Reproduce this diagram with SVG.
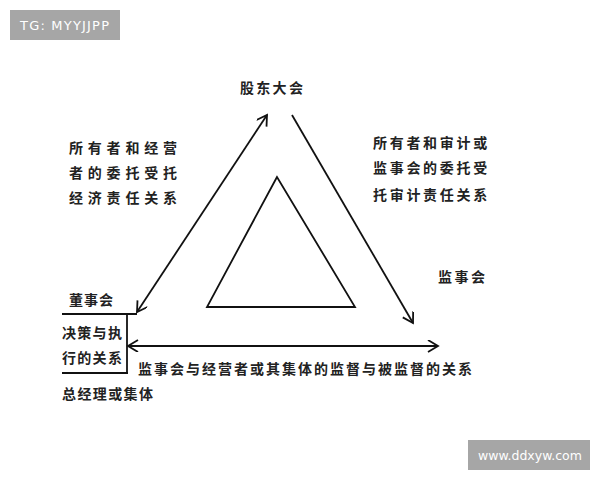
<svg xmlns="http://www.w3.org/2000/svg" width="600" height="480" viewBox="0 0 600 480">
<style>
.t{font-family:"Noto Sans CJK SC","Noto Sans",sans-serif;font-size:14px;font-weight:700;fill:#222}
.ln{stroke:#111;stroke-width:1.8;fill:none}
.wm{font-family:"DejaVu Sans","Liberation Sans",sans-serif;font-size:13px;fill:#fff}
</style>
<defs>
<marker id="ah" markerWidth="14" markerHeight="14" refX="11" refY="6" orient="auto-start-reverse" markerUnits="userSpaceOnUse">
<path d="M1,0 L11,6 L1,12" fill="none" stroke="#111" stroke-width="1.8"/>
</marker>
</defs>
<rect width="600" height="480" fill="#fff"/>
<g id="wm1"><rect x="10" y="10" width="110" height="30" fill="#a6a6a6"/><text class="wm" x="20" y="30" letter-spacing="1.2">TG: MYYJJPP</text></g>
<g id="wm2"><rect x="468" y="440" width="122" height="30" fill="#a6a6a6"/><text class="wm" x="478" y="460" style="font-size:12.5px">www.ddxyw.com</text></g>
<g id="connectors">
<line class="ln" x1="137" y1="312" x2="267" y2="115" marker-start="url(#ah)" marker-end="url(#ah)"/>
<line class="ln" x1="292" y1="115" x2="413" y2="323" marker-end="url(#ah)"/>
<line class="ln" x1="128" y1="346" x2="438" y2="346" marker-start="url(#ah)" marker-end="url(#ah)"/>
</g>
<g id="inner-triangle"><polygon class="ln" points="277,177 207,307 355,307"/></g>
<g id="gudong"><text class="t" x="240" y="93" letter-spacing="2.3">股东大会</text></g>
<g id="rel-left">
<text class="t" x="69" y="153" letter-spacing="4.8">所有者和经营</text>
<text class="t" x="69" y="178" letter-spacing="4.8">者的委托受托</text>
<text class="t" x="69" y="203" letter-spacing="4.8">经济责任关系</text>
</g>
<g id="rel-right">
<text class="t" x="373" y="148" letter-spacing="2.7">所有者和审计或</text>
<text class="t" x="373" y="173" letter-spacing="2.7">监事会的委托受</text>
<text class="t" x="373" y="200" letter-spacing="2.7">托审计责任关系</text>
</g>
<g id="jianshihui"><text class="t" x="438" y="282" letter-spacing="2.5">监事会</text></g>
<g id="dongshihui">
<text class="t" x="69" y="305" letter-spacing="1">董事会</text>
<line class="ln" x1="62" y1="314" x2="137" y2="314"/>
<line class="ln" x1="62" y1="373" x2="128" y2="373"/>
<line class="ln" x1="127" y1="314" x2="127" y2="373"/>
<text class="t" x="62" y="338" letter-spacing="1.3">决策与执</text>
<text class="t" x="62" y="363" letter-spacing="1.3">行的关系</text>
</g>
<g id="zongjingli"><text class="t" x="62" y="399" letter-spacing="1.4">总经理或集体</text></g>
<g id="rel-bottom"><text class="t" x="138" y="374" letter-spacing="2">监事会与经营者或其集体的监督与被监督的关系</text></g>
</svg>
